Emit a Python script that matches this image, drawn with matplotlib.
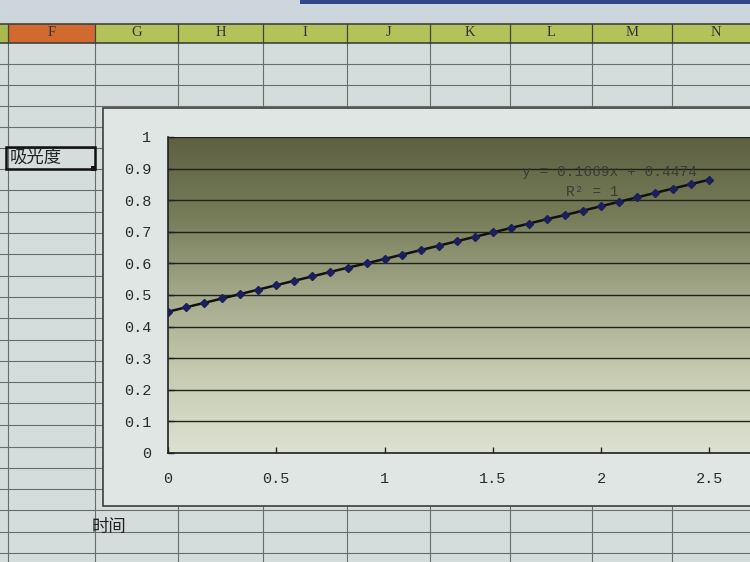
import numpy as np
import matplotlib
matplotlib.use("Agg")
import matplotlib.pyplot as plt
from matplotlib.patches import Rectangle
from matplotlib.lines import Line2D
from matplotlib.colors import LinearSegmentedColormap

plt.rcParams['font.family'] = ['Liberation Mono', 'Noto Sans CJK SC', 'DejaVu Sans']

# ---- data ----
time_h = [0.0, 0.083, 0.167, 0.25, 0.333, 0.417, 0.5, 0.583, 0.667, 0.75,
          0.833, 0.917, 1.0, 1.083, 1.167, 1.25, 1.333, 1.417, 1.5, 1.583,
          1.667, 1.75, 1.833, 1.917, 2.0, 2.083, 2.167, 2.25, 2.333, 2.417, 2.5]
absorbance = [0.447, 0.461, 0.475, 0.489, 0.503, 0.517, 0.531, 0.545, 0.559, 0.573,
              0.587, 0.600, 0.614, 0.628, 0.642, 0.656, 0.670, 0.684, 0.698, 0.712,
              0.726, 0.740, 0.753, 0.767, 0.781, 0.795, 0.809, 0.823, 0.837, 0.851, 0.865]
y_ticks = [0, 0.1, 0.2, 0.3, 0.4, 0.5, 0.6, 0.7, 0.8, 0.9, 1]
y_tick_labels = ["0", "0.1", "0.2", "0.3", "0.4", "0.5", "0.6", "0.7", "0.8", "0.9", "1"]
x_ticks = [0, 0.5, 1, 1.5, 2, 2.5]
x_tick_labels = ["0", "0.5", "1", "1.5", "2", "2.5"]
col_letters = ["F", "G", "H", "I", "J", "K", "L", "M", "N"]
equation = "y = 0.1669x + 0.4474"
r2_text = "R² = 1"
y_title = "吸光度"
x_title = "时间"

W, H = 750, 562
fig = plt.figure(figsize=(7.5, 5.62), dpi=100)
fig.patch.set_facecolor('#d5dddc')

def fx(x):
    return x / W

def fy(y):
    return 1 - y / H

def rect(x0, y0, x1, y1, fc, ec='none', lw=0, z=1):
    fig.add_artist(Rectangle((fx(x0), fy(y1)), fx(x1) - fx(x0), fy(y0) - fy(y1),
                             transform=fig.transFigure, facecolor=fc,
                             edgecolor=ec, linewidth=lw, zorder=z))

def line(x0, y0, x1, y1, c='#65706b', lw=0.8, z=1.5):
    fig.add_artist(Line2D([fx(x0), fx(x1)], [fy(y0), fy(y1)],
                          transform=fig.transFigure, color=c, linewidth=lw, zorder=z))

# top strip (screen)
rect(0, 0, 750, 24, '#ccd6dc')
rect(300, 0, 750, 4, '#34468a')

# column header row
col_edges = [8, 95, 178, 263, 347, 430, 510, 592, 672, 760]
rect(0, 24, 8, 43, '#a7b94f')
for i, letter in enumerate(col_letters):
    fc = '#d2692f' if letter == 'F' else '#b3c35a'
    rect(col_edges[i], 24, col_edges[i + 1], 43, fc)
    fig.text(fx((col_edges[i] + col_edges[i + 1]) / 2), fy(33), letter,
             ha='center', va='center', fontsize=10.5, color='#333333',
             family=['Liberation Serif'], zorder=3)
line(0, 24, 750, 24, c='#3f443b', lw=1.2, z=2)
line(0, 43, 750, 43, c='#3f443b', lw=1.2, z=2)
for x in col_edges[:-1]:
    line(x, 24, x, 43, c='#3f443b', lw=0.9, z=2)

# sheet gridlines
row_ys = [64, 85, 106, 127, 148, 169, 190, 212, 233, 254, 276, 297, 318,
          340, 361, 382, 403, 425, 447, 468, 489, 510, 532, 553]
for y in row_ys:
    line(0, y, 750, y)
for x in col_edges[:-1]:
    line(x, 43, x, 562)

# selected cell with the y title
rect(6, 147, 95, 169, 'none', ec='#111111', lw=1.8, z=2.5)
rect(91, 166, 96, 171, '#111111', z=2.6)
fig.text(fx(10), fy(158), y_title, ha='left', va='center', fontsize=12.5,
         color='#222222', family=['Noto Sans CJK SC'], zorder=3)

# chart area
rect(103, 108, 760, 506, '#e0e6e4', ec='#3c3f3c', lw=1.2, z=2)

# x title below chart
fig.text(fx(92), fy(527), x_title, ha='left', va='center', fontsize=12.5,
         color='#222222', family=['Noto Sans CJK SC'], zorder=3)

# plot area
ax = fig.add_axes([fx(168), fy(453), fx(750) - fx(168), fy(137) - fy(453)])
ax.set_zorder(5)
ax.set_xlim(0, (750 - 168) / 216.5)
ax.set_ylim(0, 1)
cmap = LinearSegmentedColormap.from_list(
    'olive', ['#dde1d2', '#c6cbb1', '#a4a98b', '#767b58', '#5d6142'])
grad = np.linspace(0, 1, 256).reshape(-1, 1)
ax.imshow(grad, aspect='auto', cmap=cmap, origin='lower',
          extent=[0, ax.get_xlim()[1], 0, 1], zorder=0)
for yv in y_ticks:
    ax.axhline(yv, color='#1e2318', linewidth=1.0, zorder=1)

ax.plot(time_h, absorbance, color='#111111', linewidth=1.8, zorder=3)
ax.plot(time_h, absorbance, linestyle='none', marker='D', markersize=4.2,
        color='#1c1f5a', zorder=4)

ax.text(2.04, 0.89, equation, ha='center', va='center', fontsize=10.5,
        color='#3a3d33', zorder=5)
ax.text(1.96, 0.825, r2_text, ha='center', va='center', fontsize=10.5,
        color='#3a3d33', zorder=5)

ax.set_yticks(y_ticks)
ax.set_yticklabels(y_tick_labels)
ax.set_xticks(x_ticks)
ax.set_xticklabels(x_tick_labels)
ax.tick_params(axis='both', direction='in', length=4, width=1, colors='#222222',
               labelsize=11, labelcolor='#2c2c2c')
ax.tick_params(axis='y', pad=12)
ax.tick_params(axis='x', pad=14)
for s in ['top', 'right']:
    ax.spines[s].set_visible(False)
for s in ['left', 'bottom']:
    ax.spines[s].set_color('#222222')
    ax.spines[s].set_linewidth(1.2)

fig.savefig('out.png', dpi=100)
